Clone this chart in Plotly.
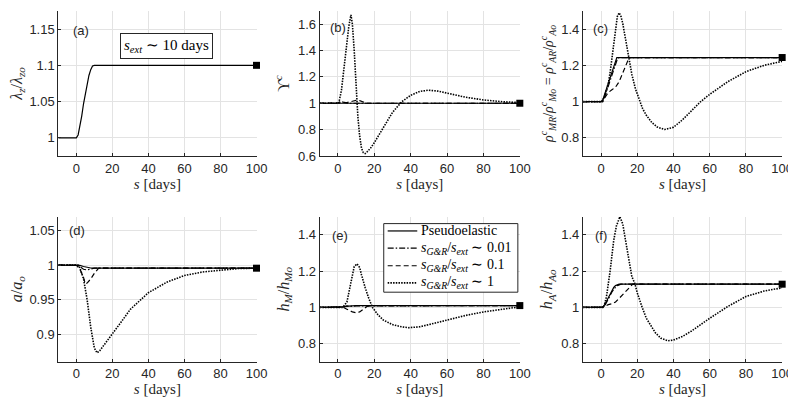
import plotly.graph_objects as go

# ---------------- data ----------------
x_ticks = [0, 20, 40, 60, 80, 100]
x_ticklabels = ["0", "20", "40", "60", "80", "100"]

legend_names = ["Pseudoelastic",
                "<i>s</i><sub><i>G&amp;R</i></sub>/<i>s</i><sub><i>ext</i></sub> ∼ 0.01",
                "<i>s</i><sub><i>G&amp;R</i></sub>/<i>s</i><sub><i>ext</i></sub> ∼ 0.1",
                "<i>s</i><sub><i>G&amp;R</i></sub>/<i>s</i><sub><i>ext</i></sub> ∼ 1"]

# (a) lambda_z / lambda_zo
a_s = [-10, 0, 1, 2, 3, 4, 5, 6, 7, 8, 9, 10, 100]
a_pe = [1, 1, 1.004, 1.015, 1.03, 1.047, 1.062, 1.075, 1.086, 1.094, 1.099, 1.1, 1.1]

# (b) Upsilon^c
b_pe_s = [-10, 100]
b_pe = [1, 1]
b_001_s = [-10, 0, 1, 2, 3, 4, 6, 100]
b_001 = [1, 1, 1.01, 1.012, 1.008, 1.004, 1.0, 1.0]
b_01_s = [-10, 0, 5, 8, 10, 12, 14, 16, 100]
b_01 = [1, 1, 1.005, 1.015, 1.022, 1.02, 1.008, 1.0, 1.0]
b_1_s = [-10, 0, 0.5, 2, 4, 6, 7.2, 8, 9, 10, 11, 12, 13, 14, 15, 16, 18, 20, 25, 30,
         35, 40, 45, 50, 55, 60, 70, 80, 90, 100]
b_1 = [1, 1, 1.0, 1.1, 1.35, 1.58, 1.67, 1.6, 1.4, 1.12, 0.9, 0.75, 0.66, 0.625, 0.618,
       0.63, 0.66, 0.7, 0.82, 0.93, 1.01, 1.06, 1.09, 1.099, 1.092, 1.077, 1.046, 1.025,
       1.012, 1.005]

# (c) rho_MR / rho_Mo
c_pe_s = [-10, 0, 1, 2, 3, 4, 5, 6, 7, 8, 8.7, 100]
c_pe = [1, 1, 1.01, 1.04, 1.07, 1.1, 1.13, 1.165, 1.2, 1.23, 1.243, 1.243]
c_001_s = [-10, 0, 1, 2, 3, 4, 5, 6, 7, 8, 9, 10, 100]
c_001 = [1, 1, 1.005, 1.025, 1.055, 1.085, 1.115, 1.15, 1.185, 1.215, 1.235, 1.243, 1.243]
c_01_s = [-10, 0, 1, 2, 4, 6, 8, 10, 12, 14, 15.5, 100]
c_01 = [1, 1, 1.0, 1.02, 1.05, 1.065, 1.08, 1.11, 1.16, 1.21, 1.243, 1.243]
c_1_s = [-10, 0, 0.5, 2, 4, 5, 7, 8, 9, 10, 11, 12, 13, 15, 17, 19, 21, 23, 25, 28, 31,
         35, 40, 45, 50, 55, 60, 70, 80, 90, 100]
c_1 = [1, 1, 1.0, 1.03, 1.1, 1.16, 1.33, 1.42, 1.47, 1.49, 1.47, 1.43, 1.37, 1.25, 1.15,
       1.07, 1.01, 0.96, 0.925, 0.885, 0.86, 0.846, 0.858, 0.9, 0.95, 1.0, 1.04, 1.11,
       1.165, 1.2, 1.222]

# (d) a / a_o
d_pe_s = [-10, 0, 2, 4, 6, 8, 10, 100]
d_pe = [1, 1, 0.9995, 0.998, 0.9965, 0.9958, 0.9955, 0.9955]
d_001_s = [-10, 0, 2, 4, 6, 8, 10, 100]
d_001 = [1, 1, 0.998, 0.994, 0.993, 0.994, 0.9955, 0.9955]
d_01_s = [-10, 0, 2, 4, 5, 6, 8, 10, 12.4, 100]
d_01 = [1, 1, 0.994, 0.982, 0.973, 0.974, 0.98, 0.988, 0.9955, 0.9955]
d_1_s = [-10, 0, 1, 2, 4, 6, 8, 10, 11.5, 13, 15, 20, 25, 30, 40, 50, 60, 70, 80, 90, 100]
d_1 = [1, 1, 1.0, 0.996, 0.98, 0.95, 0.91, 0.88, 0.873, 0.876, 0.883, 0.899, 0.918,
       0.936, 0.96, 0.975, 0.985, 0.99, 0.993, 0.995, 0.9955]

# (e) h_M / h_Mo
e_pe_s = [-10, 0, 2, 4, 6, 8, 10, 100]
e_pe = [1, 1, 1.001, 1.004, 1.007, 1.009, 1.01, 1.01]
e_001_s = [-10, 0, 3, 5, 7, 10, 100]
e_001 = [1, 1, 1.003, 1.008, 1.006, 1.008, 1.01]
e_01_s = [-10, 0, 3, 5, 8, 10, 12, 14, 16, 18, 100]
e_01 = [1, 1, 1.0, 0.99, 0.975, 0.97, 0.975, 0.99, 1.005, 1.01, 1.01]
e_1_s = [-10, 0, 2.7, 5, 6, 7, 8, 9, 10.5, 12, 13, 14, 15, 17, 19, 22, 25, 30, 35, 39,
         45, 50, 60, 70, 80, 90, 100]
e_1 = [1, 1, 1.0, 1.03, 1.08, 1.14, 1.19, 1.225, 1.24, 1.22, 1.18, 1.14, 1.11, 1.05,
       1.0, 0.96, 0.93, 0.905, 0.893, 0.888, 0.893, 0.905, 0.93, 0.955, 0.975, 0.99, 1.003]

# (f) h_A / h_Ao
f_pe_s = [-10, 0, 1, 2, 3, 4, 5, 6, 7, 8, 9, 10, 100]
f_pe = [1, 1, 1.003, 1.015, 1.035, 1.055, 1.075, 1.095, 1.11, 1.12, 1.126, 1.128, 1.128]
f_001_s = [-10, 0, 1, 2, 3, 4, 5, 6, 7, 8, 9, 10, 11, 100]
f_001 = [1, 1, 1.0, 1.008, 1.025, 1.045, 1.065, 1.085, 1.1, 1.112, 1.12, 1.125, 1.128, 1.128]
f_01_s = [-10, 0, 2, 4, 6, 8, 10, 12, 14, 16, 17.5, 100]
f_01 = [1, 1, 1.005, 1.015, 1.02, 1.03, 1.05, 1.07, 1.09, 1.11, 1.128, 1.128]
f_1_s = [-10, 0, 1.5, 3, 5, 7, 8.5, 10.4, 12, 13, 15, 17, 18.7, 20, 22.7, 25, 30, 33,
         37, 40, 45, 50, 60, 70, 80, 90, 100]
f_1 = [1, 1, 1.0, 1.06, 1.2, 1.37, 1.45, 1.5, 1.46, 1.4, 1.28, 1.17, 1.13, 1.08, 1.0,
       0.94, 0.86, 0.83, 0.816, 0.82, 0.84, 0.87, 0.94, 1.005, 1.06, 1.09, 1.108]

final_s = [100]
final_vals = [1.1, 1.0, 1.243, 0.9955, 1.01, 1.128]

panel_labels = ["(a)", "(b)", "(c)", "(d)", "(e)", "(f)"]
y_titles = ["<i>λ<sub>z</sub></i>/<i>λ<sub>zo</sub></i>",
            "ϒ<sup><i>c</i></sup>",
            "<i>ρ</i><sup><i>c</i></sup><sub><i>MR</i></sub>/<i>ρ</i><sup><i>c</i></sup><sub><i>Mo</i></sub> = <i>ρ</i><sup><i>c</i></sup><sub><i>AR</i></sub>/<i>ρ</i><sup><i>c</i></sup><sub><i>Ao</i></sub>",
            "<i>a</i>/<i>a<sub>o</sub></i>",
            "<i>h<sub>M</sub></i>/<i>h<sub>Mo</sub></i>",
            "<i>h<sub>A</sub></i>/<i>h<sub>Ao</sub></i>"]
y_title_sizes = [16, 16, 14, 16, 16, 16]
y_ranges = [[0.975, 1.175], [0.6, 1.7], [0.7, 1.5], [0.86, 1.07], [0.7, 1.5], [0.7, 1.5]]
y_tickvals = [[1, 1.05, 1.1, 1.15], [0.6, 0.8, 1, 1.2, 1.4, 1.6], [0.8, 1, 1.2, 1.4],
              [0.9, 0.95, 1, 1.05], [0.8, 1, 1.2, 1.4], [0.8, 1, 1.2, 1.4]]
y_ticktext = [["1", "1.05", "1.1", "1.15"], ["0.6", "0.8", "1", "1.2", "1.4", "1.6"],
              ["0.8", "1", "1.2", "1.4"], ["0.9", "0.95", "1", "1.05"],
              ["0.8", "1", "1.2", "1.4"], ["0.8", "1", "1.2", "1.4"]]

# ---------------- figure ----------------
W, H = 796, 400
col_px = [(51, 252), (316, 519), (583, 785)]
row_px = [(3, 151), (213, 361)]
label_pos = [(0.065, 0.867), (0.04, 0.885), (0.04, 0.878),
             (0.045, 0.907), (0.054, 0.874), (0.05, 0.874)]

series = [
    [(a_s, a_pe, "solid")],
    [(b_pe_s, b_pe, "solid"), (b_001_s, b_001, "dashdot"), (b_01_s, b_01, "dash"), (b_1_s, b_1, "dot")],
    [(c_pe_s, c_pe, "solid"), (c_001_s, c_001, "dashdot"), (c_01_s, c_01, "dash"), (c_1_s, c_1, "dot")],
    [(d_pe_s, d_pe, "solid"), (d_001_s, d_001, "dashdot"), (d_01_s, d_01, "dash"), (d_1_s, d_1, "dot")],
    [(e_pe_s, e_pe, "solid"), (e_001_s, e_001, "dashdot"), (e_01_s, e_01, "dash"), (e_1_s, e_1, "dot")],
    [(f_pe_s, f_pe, "solid"), (f_001_s, f_001, "dashdot"), (f_01_s, f_01, "dash"), (f_1_s, f_1, "dot")],
]
dash_styles = ["solid", "dashdot", "dash", "dot"]
dash_map = {"solid": "solid", "dashdot": "6px,2px,1.5px,2px", "dash": "5px,3px",
            "dot": "1.5px,1.2px"}
width_map = {"solid": 1.2, "dashdot": 1.2, "dash": 1.2, "dot": 1.6}

fig = go.Figure()
serif = "Liberation Serif, Times New Roman, serif"
sans = "Liberation Sans, Arial, Helvetica, sans-serif"
axcol = "#262626"
layout = {}
annotations = []
shapes = []

for i in range(6):
    r, c = divmod(i, 3)
    n = "" if i == 0 else str(i + 1)
    xa, ya = "x" + n, "y" + n
    x0, x1 = col_px[c]
    y0, y1 = row_px[r]
    for k, (sx, sy, dash) in enumerate(series[i]):
        fig.add_trace(go.Scatter(
            x=sx, y=sy, mode="lines", xaxis=xa, yaxis=ya,
            line=dict(color="black", width=width_map[dash], dash=dash_map[dash]),
            name=legend_names[k], showlegend=False, hoverinfo="skip"))
    fig.add_trace(go.Scatter(
        x=final_s, y=[final_vals[i]], mode="markers", xaxis=xa, yaxis=ya,
        marker=dict(symbol="square", size=7, color="black"),
        showlegend=False, cliponaxis=False, hoverinfo="skip"))
    common = dict(showline=True, linecolor=axcol, linewidth=1, mirror=False,
                  showgrid=True, gridcolor="#e3e3e3", gridwidth=1, zeroline=False,
                  ticks="inside", ticklen=3, tickcolor=axcol,
                  tickfont=dict(family=sans, size=13, color=axcol))
    layout["xaxis" + n] = dict(common, domain=[x0 / W, x1 / W], anchor=ya,
                               range=[-10, 100], tickvals=x_ticks, ticktext=x_ticklabels,
                               title=dict(text="<i>s</i> [days]", standoff=3,
                                          font=dict(family=serif, size=15, color=axcol)))
    layout["yaxis" + n] = dict(common, domain=[1 - y1 / H, 1 - y0 / H], anchor=xa,
                               range=y_ranges[i], tickvals=y_tickvals[i],
                               ticktext=y_ticktext[i],
                               title=dict(text=y_titles[i], standoff=4,
                                          font=dict(family=serif, size=y_title_sizes[i],
                                                    color=axcol)))
    lx, ly = label_pos[i]
    annotations.append(dict(text=panel_labels[i], xref=xa + " domain", yref=ya + " domain",
                            x=lx, y=ly, xanchor="left", yanchor="middle", showarrow=False,
                            font=dict(family=sans, size=13, color=axcol)))

annotations.append(dict(text="<i>s<sub>ext</sub></i> ∼ 10 days", xref="paper", yref="paper",
                        x=160.5 / W, y=1 - 38.5 / H, xanchor="center", yanchor="middle",
                        showarrow=False, bordercolor=axcol, borderwidth=1, borderpad=3,
                        bgcolor="white", font=dict(family=serif, size=15, color="black")))

# legend box drawn in panel (e)
leg_box = (381, 220, 517, 290)
leg_rows = [227.5, 245, 263, 280.5]
shapes.append(dict(type="rect", xref="paper", yref="paper",
                   x0=leg_box[0] / W, x1=leg_box[2] / W,
                   y0=1 - leg_box[3] / H, y1=1 - leg_box[1] / H,
                   line=dict(color=axcol, width=1), fillcolor="white", layer="above"))
for k in range(4):
    yy = 1 - leg_rows[k] / H
    st = dash_styles[k]
    shapes.append(dict(type="line", xref="paper", yref="paper",
                       x0=385 / W, x1=415 / W, y0=yy, y1=yy, layer="above",
                       line=dict(color="black", width=width_map[st], dash=dash_map[st])))
    annotations.append(dict(text=legend_names[k], xref="paper", yref="paper",
                            x=417 / W, y=yy, xanchor="left", yanchor="middle",
                            showarrow=False,
                            font=dict(family=serif, size=14, color="black")))

fig.update_layout(
    width=W, height=H, margin=dict(l=0, r=0, t=0, b=0),
    paper_bgcolor="white", plot_bgcolor="white",
    annotations=annotations, shapes=shapes, showlegend=False,
    **layout)

fig.write_html("out.html")
